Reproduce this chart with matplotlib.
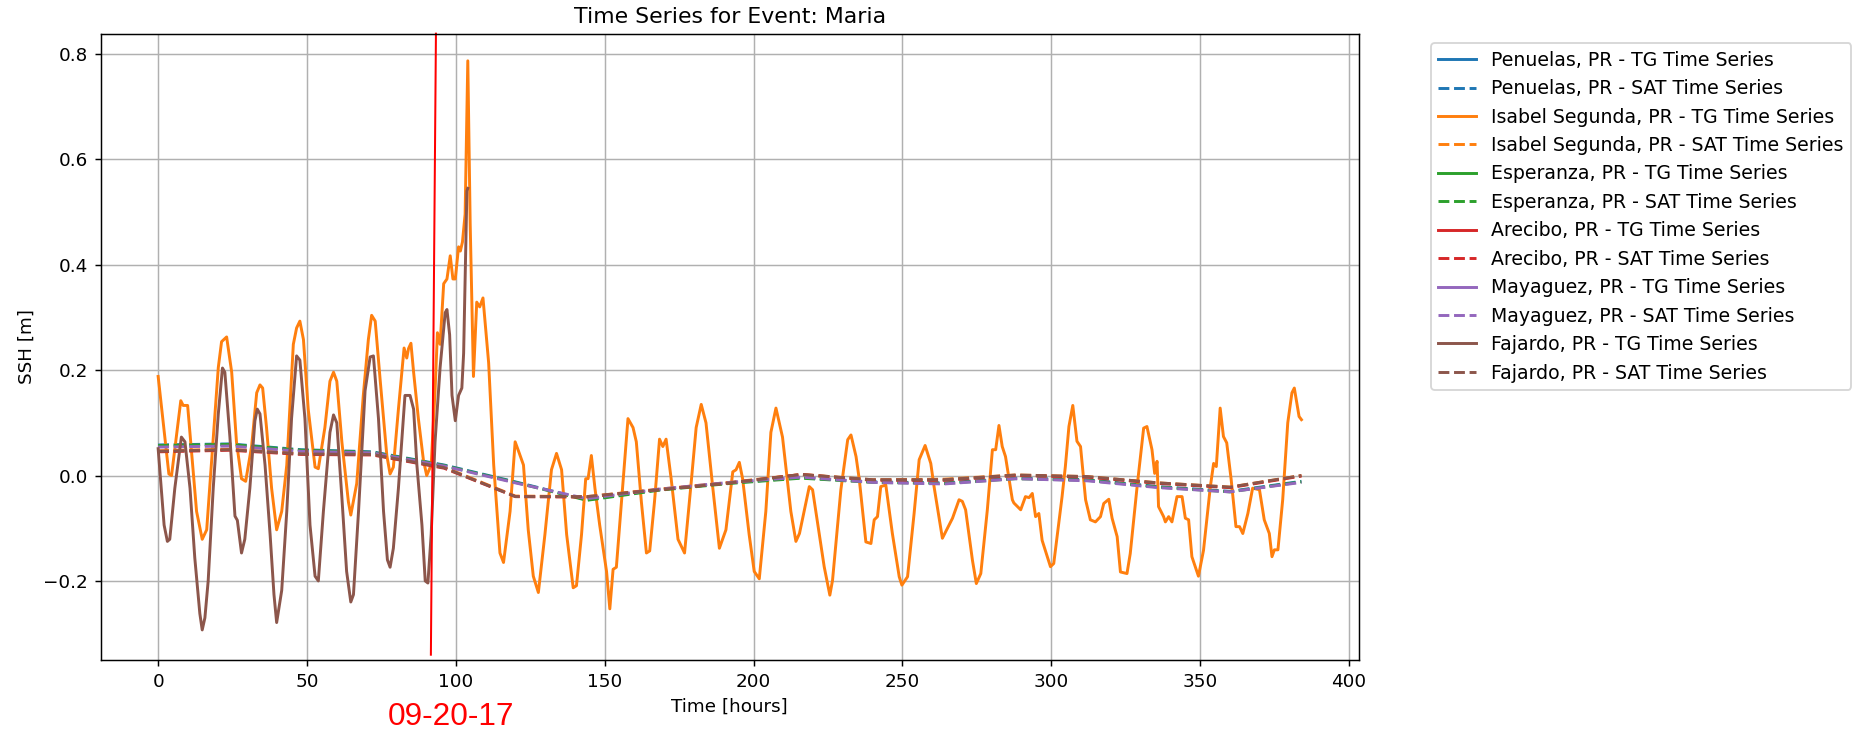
import matplotlib
matplotlib.use("Agg")
import matplotlib.pyplot as plt

# station names, in legend order
stations = ["Penuelas, PR", "Isabel Segunda, PR", "Esperanza, PR",
            "Arecibo, PR", "Mayaguez, PR", "Fajardo, PR"]

# tide gauge series (only two stations have data)
isabel_tg_hours = [
    0, 3.6, 4.5, 7.6, 8.4, 9.9, 12.9, 14.8, 16.3, 20.2, 21.3, 23.0, 24.7, 26.3, 28.0, 29.4,
    31.4, 33.1, 34.2, 35.1, 36.4, 38.1, 39.8, 41.5, 43.2, 45.4, 46.5, 47.6, 48.8, 50.4, 52.7,
    53.8, 56.0, 57.7, 58.9, 60.0, 61.7, 63.9, 64.7, 66.7, 68.9, 70.6, 71.7, 72.9, 74.6, 76.8,
    77.9, 79.0, 80.7, 82.6, 83.5, 84.1, 84.9, 85.8, 87.4, 89.1, 90.2, 91.7, 93.0, 93.8, 94.7,
    95.9, 97.0, 98.1, 99.0, 99.8, 100.9, 101.5, 102.2, 103.1, 104.0, 104.8, 105.9, 107.0,
    108.0, 109.1, 111.0, 112.7, 114.8, 116.0, 118.2, 119.9, 121.0, 122.7, 124.3, 126.0,
    127.7, 129.9, 132.1, 133.8, 135.5, 137.2, 139.4, 140.5, 142.2, 143.6, 144.4, 145.5,
    146.7, 148.3, 150.6, 151.7, 152.8, 153.9, 155.6, 157.8, 159.5, 160.6, 162.3, 164.0,
    165.1, 166.7, 168.4, 169.5, 170.6, 172.3, 174.6, 176.8, 179.0, 180.7, 182.4, 184.0,
    186.3, 188.5, 190.7, 193.0, 194.1, 195.2, 196.3, 198.5, 200.2, 201.9, 204.1, 205.8,
    207.5, 209.7, 212.5, 214.2, 215.4, 218.7, 219.8, 223.7, 225.6, 226.5, 229.3, 231.6,
    232.7, 234.4, 235.5, 237.7, 239.4, 240.5, 241.6, 242.7, 244.4, 246.6, 248.9, 249.8,
    251.7, 253.9, 255.6, 257.6, 259.5, 260.6, 263.4, 266.8, 269.0, 270.1, 271.2, 273.5,
    274.8, 276.3, 278.5, 280.2, 281.3, 282.4, 283.5, 284.6, 286.9, 287.4, 289.7, 291.3,
    292.5, 293.6, 294.7, 295.8, 296.9, 299.7, 300.8, 303.6, 304.7, 305.9, 307.2, 308.6,
    309.8, 311.5, 313.1, 314.8, 316.5, 317.6, 319.3, 320.4, 322.1, 323.2, 325.4, 326.5,
    328.8, 331.0, 332.1, 333.8, 334.7, 335.5, 336.0, 337.7, 338.3, 339.4, 340.5, 342.2,
    343.9, 345.0, 346.1, 347.2, 349.4, 351.1, 353.4, 354.5, 355.4, 356.7, 357.8, 358.9,
    360.4, 362.0, 363.2, 364.3, 366.0, 367.6, 369.9, 371.5, 373.2, 374.1, 374.9, 376.1,
    377.7, 379.4, 380.8, 381.6, 383.2, 384.0]
isabel_tg_ssh = [
    0.188, 0.003, 0.0, 0.142, 0.133, 0.133, -0.068, -0.121, -0.103, 0.205, 0.254, 0.263, 0.196,
    0.064, -0.006, -0.011, 0.056, 0.157, 0.172, 0.166, 0.091, -0.024, -0.103, -0.068, 0.02,
    0.249, 0.28, 0.293, 0.258, 0.126, 0.016, 0.013, 0.091, 0.179, 0.196, 0.179, 0.064, -0.05,
    -0.075, -0.015, 0.152, 0.258, 0.304, 0.293, 0.179, 0.038, 0.003, 0.016, 0.126, 0.242,
    0.223, 0.241, 0.251, 0.196, 0.108, 0.029, 0.0, 0.02, 0.161, 0.271, 0.249, 0.364, 0.373,
    0.417, 0.373, 0.373, 0.434, 0.426, 0.443, 0.496, 0.787, 0.478, 0.188, 0.329, 0.32, 0.337,
    0.214, 0.02, -0.147, -0.165, -0.068, 0.064, 0.047, 0.02, -0.103, -0.191, -0.222, -0.112,
    0.011, 0.042, 0.011, -0.112, -0.213, -0.209, -0.112, -0.006, -0.006, 0.038, -0.024,
    -0.094, -0.182, -0.253, -0.178, -0.174, -0.05, 0.108, 0.091, 0.064, -0.05, -0.147, -0.143,
    -0.05, 0.069, 0.055, 0.069, -0.006, -0.121, -0.147, -0.015, 0.091, 0.135, 0.1, -0.024,
    -0.138, -0.103, 0.007, 0.011, 0.025, -0.006, -0.112, -0.182, -0.196, -0.068, 0.082, 0.128,
    0.073, -0.068, -0.125, -0.11, -0.021, -0.027, -0.173, -0.227, -0.199, -0.027, 0.068,
    0.077, 0.036, -0.008, -0.126, -0.129, -0.084, -0.078, -0.021, -0.018, -0.11, -0.192,
    -0.208, -0.192, -0.072, 0.03, 0.057, 0.023, -0.021, -0.119, -0.081, -0.046, -0.049,
    -0.065, -0.161, -0.205, -0.186, -0.065, 0.049, 0.049, 0.095, 0.055, 0.036, -0.046,
    -0.052, -0.065, -0.04, -0.042, -0.034, -0.078, -0.072, -0.123, -0.173, -0.167, -0.04,
    0.017, 0.093, 0.133, 0.065, 0.055, -0.046, -0.084, -0.088, -0.078, -0.053, -0.045,
    -0.081, -0.116, -0.183, -0.186, -0.148, -0.021, 0.09, 0.093, 0.049, 0.004, 0.027, -0.059,
    -0.078, -0.088, -0.078, -0.088, -0.04, -0.04, -0.081, -0.084, -0.154, -0.191, -0.142,
    -0.021, 0.023, 0.017, 0.128, 0.074, 0.062, -0.008, -0.097, -0.097, -0.11, -0.072,
    -0.024, -0.027, -0.084, -0.11, -0.154, -0.141, -0.141, -0.046, 0.1, 0.157, 0.166,
    0.112, 0.106]

fajardo_tg_hours = [
    0, 2.0, 3.1, 3.9, 5.6, 7.8, 9.0, 10.7, 12.3, 14.0, 14.8, 15.7, 16.8, 18.5, 20.2, 21.6,
    22.4, 24.1, 25.8, 26.6, 28.0, 29.1, 30.8, 32.5, 33.3, 34.2, 35.9, 37.6, 38.9, 39.8, 41.5,
    43.2, 44.8, 46.5, 47.6, 49.3, 51.0, 52.7, 53.8, 55.5, 57.7, 58.9, 60.0, 61.7, 63.3, 64.7,
    65.6, 67.3, 69.5, 71.2, 72.3, 74.0, 75.7, 77.0, 77.9, 79.0, 80.7, 82.9, 84.6, 85.8, 86.9,
    88.6, 89.7, 90.6, 91.7, 93.0, 94.7, 96.4, 97.0, 97.9, 98.7, 99.8, 100.9, 102.0, 102.6,
    103.7, 104.0]
fajardo_tg_ssh = [
    0.051, -0.094, -0.125, -0.121, -0.024, 0.073, 0.064, -0.024, -0.156, -0.262, -0.293,
    -0.27, -0.2, -0.024, 0.117, 0.204, 0.196, 0.073, -0.077, -0.085, -0.147, -0.121, -0.024,
    0.104, 0.126, 0.117, 0.02, -0.112, -0.226, -0.279, -0.218, -0.068, 0.108, 0.227, 0.219,
    0.108, -0.094, -0.191, -0.2, -0.068, 0.082, 0.115, 0.1, -0.041, -0.182, -0.24, -0.226,
    -0.068, 0.161, 0.225, 0.227, 0.108, -0.068, -0.16, -0.174, -0.138, -0.024, 0.152, 0.152,
    0.126, 0.02, -0.094, -0.2, -0.204, -0.112, 0.064, 0.205, 0.309, 0.315, 0.267, 0.152,
    0.104, 0.152, 0.166, 0.232, 0.54, 0.545]

# satellite series: one value per day
sat_hours = [0, 24, 48, 72, 96, 120, 144, 168, 192, 216, 240, 264, 288, 312, 336, 360, 384]
penuelas_sat = [0.058, 0.060, 0.049, 0.045, 0.020, -0.012, -0.046, -0.027, -0.014, -0.004,
                -0.012, -0.014, -0.005, -0.008, -0.021, -0.030, -0.011]
isabel_sat = [0.047, 0.050, 0.042, 0.041, 0.016, -0.039, -0.040, -0.026, -0.013, 0.002,
              -0.008, -0.007, 0.001, -0.002, -0.014, -0.022, 0.000]
esperanza_sat = [0.057, 0.059, 0.048, 0.044, 0.019, -0.013, -0.047, -0.028, -0.015, -0.005,
                 -0.013, -0.015, -0.006, -0.009, -0.022, -0.031, -0.012]
arecibo_sat = [0.045, 0.048, 0.040, 0.039, 0.014, -0.040, -0.041, -0.027, -0.014, 0.002,
               -0.009, -0.009, 0.000, -0.003, -0.015, -0.023, -0.001]
mayaguez_sat = [0.054, 0.056, 0.046, 0.043, 0.018, -0.014, -0.044, -0.026, -0.013, -0.003,
                -0.013, -0.016, -0.006, -0.010, -0.023, -0.031, -0.013]
fajardo_sat = [0.046, 0.049, 0.041, 0.040, 0.015, -0.040, -0.040, -0.027, -0.014, 0.002,
               -0.008, -0.008, 0.001, -0.002, -0.014, -0.022, 0.000]

tg_data = {
    "Penuelas, PR": ([], []),
    "Isabel Segunda, PR": (isabel_tg_hours, isabel_tg_ssh),
    "Esperanza, PR": ([], []),
    "Arecibo, PR": ([], []),
    "Mayaguez, PR": ([], []),
    "Fajardo, PR": (fajardo_tg_hours, fajardo_tg_ssh),
}
sat_data = {
    "Penuelas, PR": penuelas_sat,
    "Isabel Segunda, PR": isabel_sat,
    "Esperanza, PR": esperanza_sat,
    "Arecibo, PR": arecibo_sat,
    "Mayaguez, PR": mayaguez_sat,
    "Fajardo, PR": fajardo_sat,
}

# hand-drawn landfall marker (hours at top / bottom of the axes)
landfall_hours = [93.3, 91.6]
landfall_ssh = [0.8385, -0.340]
landfall_label = "09-20-17"

DPI = 132
fig = plt.figure(figsize=(1853 / DPI, 729 / DPI), dpi=DPI)
ax = fig.add_axes([0.0545, 0.0947, 0.6787, 0.8591])

colors = plt.rcParams['axes.prop_cycle'].by_key()['color']
for i, name in enumerate(stations):
    t, h = tg_data[name]
    ax.plot(t, h, color=colors[i], linestyle='-', linewidth=1.6,
            label=f'{name} - TG Time Series')
    ax.plot(sat_hours, sat_data[name], color=colors[i], linestyle='--', linewidth=1.6,
            label=f'{name} - SAT Time Series')

ax.set_xlim(-19.2, 403.2)
ax.set_ylim(-0.35, 0.8385)
ax.plot(landfall_hours, landfall_ssh, color='red', linewidth=1.1, clip_on=False)

ax.set_title('Time Series for Event: Maria')
ax.set_xlabel('Time [hours]')
ax.set_ylabel('SSH [m]')
ax.grid(True)
ax.legend(bbox_to_anchor=(1.05, 1), loc='upper left', fontsize=10.3)

fig.text(450.8 / 1853, 4 / 729, landfall_label, color='red', fontsize=17.2,
         family=['Liberation Sans', 'DejaVu Sans'], ha='center', va='baseline')

fig.savefig('out.png', dpi=DPI)
